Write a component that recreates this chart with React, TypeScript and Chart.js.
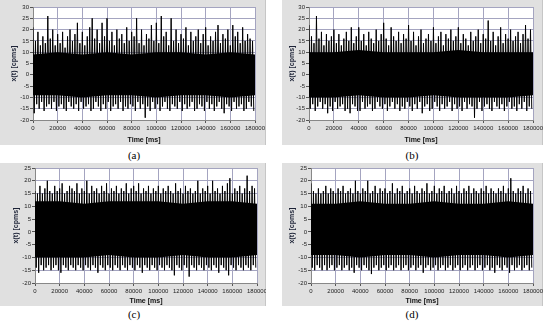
import React, { useEffect, useRef } from 'react';
import { Chart, registerables } from 'chart.js';
Chart.register(...registerables);

const timeStep = 2000;
const coreTimes = [0, 20000, 40000, 60000, 80000, 100000, 120000, 140000, 160000, 180000];

const upA = [21,15,19,13,17,14,26,16,20,13, 18,14,19,12,17,20,15,18,23,14, 19,13,17,21,25,16,20,14,23,17, 25,15,19,13,20,16,18,14,21,15, 19,17,25,14,20,13,18,16,22,15, 23,14,26,17,19,13,25,15,20,14, 18,16,21,13,19,15,17,20,14,18, 21,13,17,15,19,22,14,18,16,20, 13,22,17,19,14,21,15,18,16,15];
const loA = [-17,-13,-15,-12,-16,-14,-13,-15,-12,-16, -14,-13,-15,-16,-12,-14,-15,-13,-16,-12, -15,-14,-13,-16,-15,-12,-14,-16,-13,-15, -12,-16,-14,-13,-15,-12,-16,-14,-15,-13, -14,-16,-12,-15,-13,-19,-14,-16,-12,-15, -13,-16,-14,-12,-15,-16,-13,-14,-15,-12, -16,-13,-15,-14,-12,-16,-15,-13,-14,-16, -12,-15,-13,-16,-14,-12,-15,-17,-13,-14, -16,-12,-15,-14,-13,-16,-15,-12,-14,-16];
const coreTopA = [9,10,9,10,9,10,10,9,10,9];
const coreBotA = [-9,-9,-10,-9,-9,-10,-9,-9,-10,-9];

const upB = [22,17,14,26,16,19,13,18,15,17, 20,14,18,13,16,19,15,21,14,17, 21,15,18,13,19,16,14,20,15,18, 23,16,13,21,17,15,19,14,18,16, 22,15,19,13,17,20,14,16,18,15, 21,14,17,19,13,18,16,20,15,17, 21,14,18,16,13,19,15,17,20,14, 18,16,24,15,19,13,17,21,14,18, 16,20,15,17,19,14,18,22,16,20];
const loB = [-15,-13,-16,-14,-12,-15,-13,-17,-14,-16, -12,-15,-14,-13,-16,-15,-17,-13,-14,-16, -16,-12,-15,-14,-13,-16,-15,-12,-14,-15, -13,-16,-14,-12,-15,-13,-16,-14,-15,-12, -14,-16,-13,-15,-12,-17,-14,-13,-16,-15, -12,-14,-16,-13,-15,-14,-12,-16,-13,-15, -14,-16,-12,-15,-13,-14,-19,-15,-12,-16, -14,-13,-15,-16,-12,-14,-15,-13,-16,-14, -12,-15,-14,-16,-13,-15,-12,-16,-14,-15];
const coreTopB = [10,10,11,10,10,10,11,10,10,10];
const coreBotB = [-10,-10,-9,-10,-10,-9,-10,-10,-10,-9];

const upC = [16,15,18,15,17,20,16,15,18,16, 17,19,15,16,18,17,16,19,15,17, 16,20,15,18,16,17,15,18,16,19, 15,17,16,18,15,17,16,19,15,17, 18,16,19,15,17,16,18,15,17,16, 18,15,17,16,18,16,15,19,16,17, 15,18,16,17,15,16,20,15,17,16, 18,15,20,16,17,15,18,16,19,21, 15,17,16,18,15,17,22,16,18,17];
const loC = [-14,-16,-13,-15,-14,-13,-15,-14,-13,-15, -16,-13,-14,-15,-13,-14,-15,-13,-14,-15, -13,-14,-15,-13,-14,-16,-13,-14,-15,-13, -14,-15,-13,-14,-15,-13,-14,-15,-13,-14, -15,-13,-14,-16,-13,-14,-15,-13,-14,-15, -13,-14,-15,-13,-14,-15,-17,-13,-14,-15, -13,-14,-17.5,-13,-14,-15,-13,-14,-15,-13, -14,-15,-13,-14,-16,-13,-14,-15,-17,-13, -14,-15,-13,-14,-15,-13,-14,-15,-13,-14];
const coreTopC = [12,12,11,12,12,12,11,12,12,11];
const coreBotC = [-10,-10,-10,-9,-10,-10,-9,-10,-10,-9];

const upD = [19,16,15,17,15,16,18,15,17,16, 15,17,16,18,15,16,17,15,20,16, 15,17,16,20,15,16,18,15,17,16, 17,15,16,19,15,17,16,18,15,16, 17,15,18,16,15,17,16,19,15,16, 18,15,17,16,18,15,16,17,15,18, 16,15,17,16,18,15,17,16,15,17, 16,18,15,17,16,15,17,16,18,15, 17,21,16,15,17,16,18,15,17,16];
const loD = [-14,-15,-13,-14,-15,-13,-15,-14,-13,-15, -14,-13,-15,-14,-13,-15,-14,-16,-13,-14, -15,-13,-14,-15,-16.5,-14,-13,-15,-14,-13, -15,-14,-13,-15,-14,-13,-15,-14,-13,-15, -14,-13,-15,-14,-13,-16,-14,-13,-15,-14, -13,-15,-14,-13,-15,-14,-13,-15,-14,-13, -15,-14,-13,-15,-14,-13,-15,-14,-13,-15, -14,-13,-15,-14,-16,-13,-14,-15,-13,-14, -16,-13,-15,-14,-13,-15,-14,-13,-15,-14];
const coreTopD = [11,11,12,11,11,12,11,11,12,11];
const coreBotD = [-9,-9,-10,-9,-9,-10,-9,-9,-10,-9];

const yTitle = 'x(t) [cpms]';
const xTitle = 'Time [ms]';

type PanelProps = {
  left: number; top: number; width: number; height: number;
  pl: number; pr: number; pt: number; pb: number;
  yMin: number; yMax: number; titleX: number;
  up: number[]; lo: number[]; coreTop: number[]; coreBot: number[];
};

const FONT = "'Liberation Sans', Arial, sans-serif";

function Panel(p: PanelProps) {
  const ref = useRef<HTMLCanvasElement>(null);
  useEffect(() => {
    const zig: { x: number; y: number }[] = [];
    for (let i = 0; i < p.up.length; i++) {
      zig.push({ x: i * timeStep, y: p.up[i] });
      zig.push({ x: i * timeStep + timeStep / 2, y: p.lo[i] });
    }
    const yAxisW = p.pl - p.left;
    const xAxisH = p.top + p.height - p.pb;
    const padTop = p.pt - p.top;
    const padRight = p.left + p.width - p.pr;
    const bg = {
      id: 'bg',
      beforeDraw(chart: any) {
        const { ctx, chartArea } = chart;
        ctx.save();
        ctx.fillStyle = '#ffffff';
        ctx.fillRect(chartArea.left, chartArea.top, chartArea.right - chartArea.left, chartArea.bottom - chartArea.top);
        ctx.restore();
      },
    };
    const chart = new Chart(ref.current!, {
      type: 'line',
      data: {
        datasets: [
          {
            data: coreTimes.map((t, i) => ({ x: t, y: p.coreTop[i] })),
            borderWidth: 0,
            borderColor: '#000',
            backgroundColor: '#000',
            pointRadius: 0,
            fill: '+1',
          },
          {
            data: coreTimes.map((t, i) => ({ x: t, y: p.coreBot[i] })),
            borderWidth: 0,
            borderColor: '#000',
            pointRadius: 0,
            fill: false,
          },
          {
            data: zig,
            borderWidth: 1,
            borderColor: '#000',
            pointRadius: 0,
            tension: 0,
            fill: false,
          },
        ],
      },
      options: {
        animation: false,
        responsive: false,
        maintainAspectRatio: false,
        layout: { padding: { left: 0, top: padTop, right: padRight, bottom: 0 } },
        plugins: { legend: { display: false }, tooltip: { enabled: false } },
        scales: {
          x: {
            type: 'linear',
            min: 0,
            max: 180000,
            afterFit: (s: any) => { s.height = xAxisH; s.paddingLeft = 0; s.paddingRight = 0; },
            afterBuildTicks: (s: any) => {
              s.ticks = coreTimes.map((v) => ({ value: v }));
            },
            ticks: {
              autoSkip: false,
              maxRotation: 0,
              padding: 2,
              color: '#222',
              font: { family: FONT, size: 6 },
              callback: (v: any) => String(v),
            },
            grid: { color: '#a4a4c0', tickColor: '#555', tickLength: 3, lineWidth: 1 },
            border: { display: true, color: '#888' },
            title: { display: true, text: xTitle, color: '#111', font: { family: FONT, size: 7, weight: 'bold' }, padding: { top: 0, bottom: 1 } },
          },
          y: {
            type: 'linear',
            min: p.yMin,
            max: p.yMax,
            afterFit: (s: any) => { s.width = yAxisW; s.paddingTop = 0; s.paddingBottom = 0; },
            ticks: {
              stepSize: 5,
              padding: 1,
              color: '#222',
              font: { family: FONT, size: 6 },
            },
            grid: { color: '#a4a4c0', tickColor: '#555', tickLength: 3, lineWidth: 1 },
            border: { display: true, color: '#888' },
            title: { display: true, text: yTitle, color: '#1c2236', font: { family: FONT, size: 7, weight: 'bold' }, padding: { top: p.titleX - 4.2, bottom: 0 } },
          },
        },
      },
      plugins: [bg],
    } as any);
    return () => chart.destroy();
  }, []);
  return (
    <div style={{ position: 'absolute', left: p.left, top: p.top, width: p.width, height: p.height, background: '#e0e0e0', boxShadow: 'inset -1px 0 0 #c6c6c6' }}>
      <canvas ref={ref} width={p.width} height={p.height} style={{ display: 'block', width: p.width, height: p.height }} />
    </div>
  );
}

const capStyle = (x: number, y: number): React.CSSProperties => ({
  position: 'absolute', left: x - 20, top: y - 8, width: 40, textAlign: 'center',
  fontFamily: "'Liberation Serif', 'Times New Roman', serif", fontSize: 11, lineHeight: '16px', color: '#000',
});

export default function App() {
  return (
    <div style={{ position: 'absolute', left: 0, top: 0, width: 550, height: 325, background: '#fff', overflow: 'hidden' }}>
      <Panel left={0} top={0} width={266} height={145} pl={33} pr={255} pt={7} pb={120} yMin={-20} yMax={30} titleX={14} up={upA} lo={loA} coreTop={coreTopA} coreBot={coreBotA} />
      <Panel left={282} top={0} width={261} height={145} pl={309} pr={533} pt={7} pb={120} yMin={-20} yMax={30} titleX={10} up={upB} lo={loB} coreTop={coreTopB} coreBot={coreBotB} />
      <Panel left={0} top={163} width={266} height={143} pl={35} pr={257} pt={168} pb={283} yMin={-20} yMax={25} titleX={16} up={upC} lo={loC} coreTop={coreTopC} coreBot={coreBotC} />
      <Panel left={282} top={163} width={261} height={143} pl={311} pr={533} pt={168} pb={283} yMin={-20} yMax={25} titleX={10} up={upD} lo={loD} coreTop={coreTopD} coreBot={coreBotD} />
      <div style={capStyle(134, 155)}>(a)</div>
      <div style={capStyle(412, 155)}>(b)</div>
      <div style={capStyle(134, 314)}>(c)</div>
      <div style={capStyle(412, 314)}>(d)</div>
    </div>
  );
}
